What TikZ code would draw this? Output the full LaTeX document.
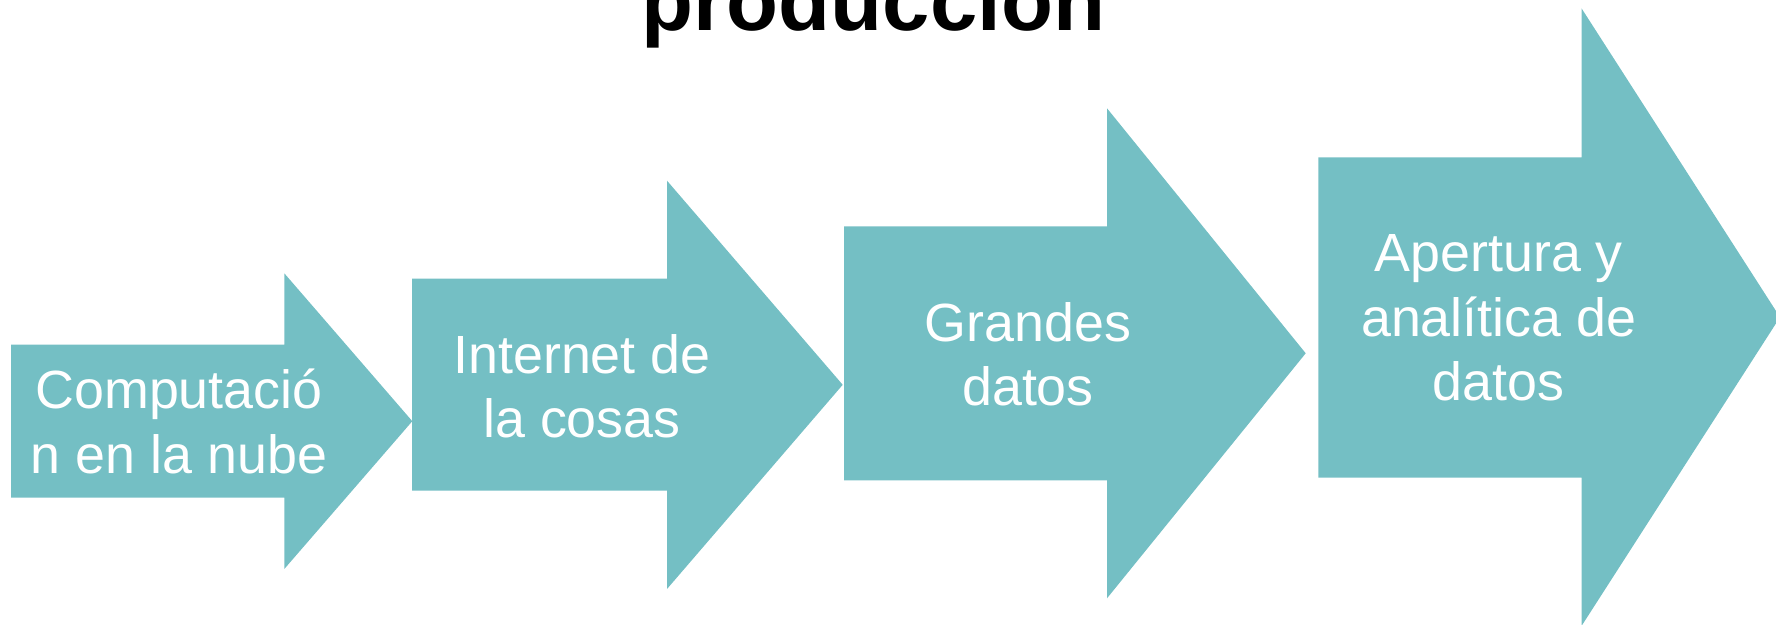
\documentclass[tikz,border=0pt]{standalone}
\usepackage{fontspec}
\setmainfont{Liberation Sans}
\usetikzlibrary{positioning}

\definecolor{aqua}{RGB}{116,191,196}

\tikzset{
  flecha/.style={fill=aqua},
  texto/.style={text=white, align=center, inner sep=0pt,
    font=\fontsize{15.3}{18.3}\selectfont},
  titulo/.style={inner sep=0pt, font=\fontsize{24.2}{29}\selectfont\bfseries}
}

\begin{document}
\begin{tikzpicture}[x=0.01cm,y=-0.01cm]
  \useasboundingbox (0,0) rectangle (1776,625);

  % flechas
  \fill[flecha] (11,344.7) -- (284.3,344.7) -- (284.3,273.3) -- (412.3,421.2)
    -- (284.3,569) -- (284.3,497.7) -- (11,497.7) -- cycle;
  \fill[flecha] (412,278.7) -- (667,278.7) -- (667,180.7) -- (842.7,384.8)
    -- (667,589) -- (667,490.7) -- (412,490.7) -- cycle;
  \fill[flecha] (844,226.3) -- (1107,226.3) -- (1107,108.3) -- (1305.7,353.3)
    -- (1107,598.3) -- (1107,480.3) -- (844,480.3) -- cycle;
  \fill[flecha] (1318.3,157.3) -- (1581.5,157.3) -- (1581.5,8.3) -- (1780,317.2)
    -- (1581.5,626) -- (1581.5,477.7) -- (1318.3,477.7) -- cycle;

  \node[titulo, anchor=base] (titulo) at (873.5,30.5) {producción};

  % textos (base = ultima linea)
  \node[texto, anchor=base] (nube) at (179,473.3) {Computació\\n en la nube};
  \node[texto, anchor=base] (internet) at (582,437.7) {Internet de\\la cosas};
  \node[texto, anchor=base] (grandes) at (1028,405.7) {Grandes\\datos};
  \node[texto, anchor=base] (apertura) at (1498.7,400.7) {Apertura y\\analítica de\\datos};
\end{tikzpicture}
\end{document}
